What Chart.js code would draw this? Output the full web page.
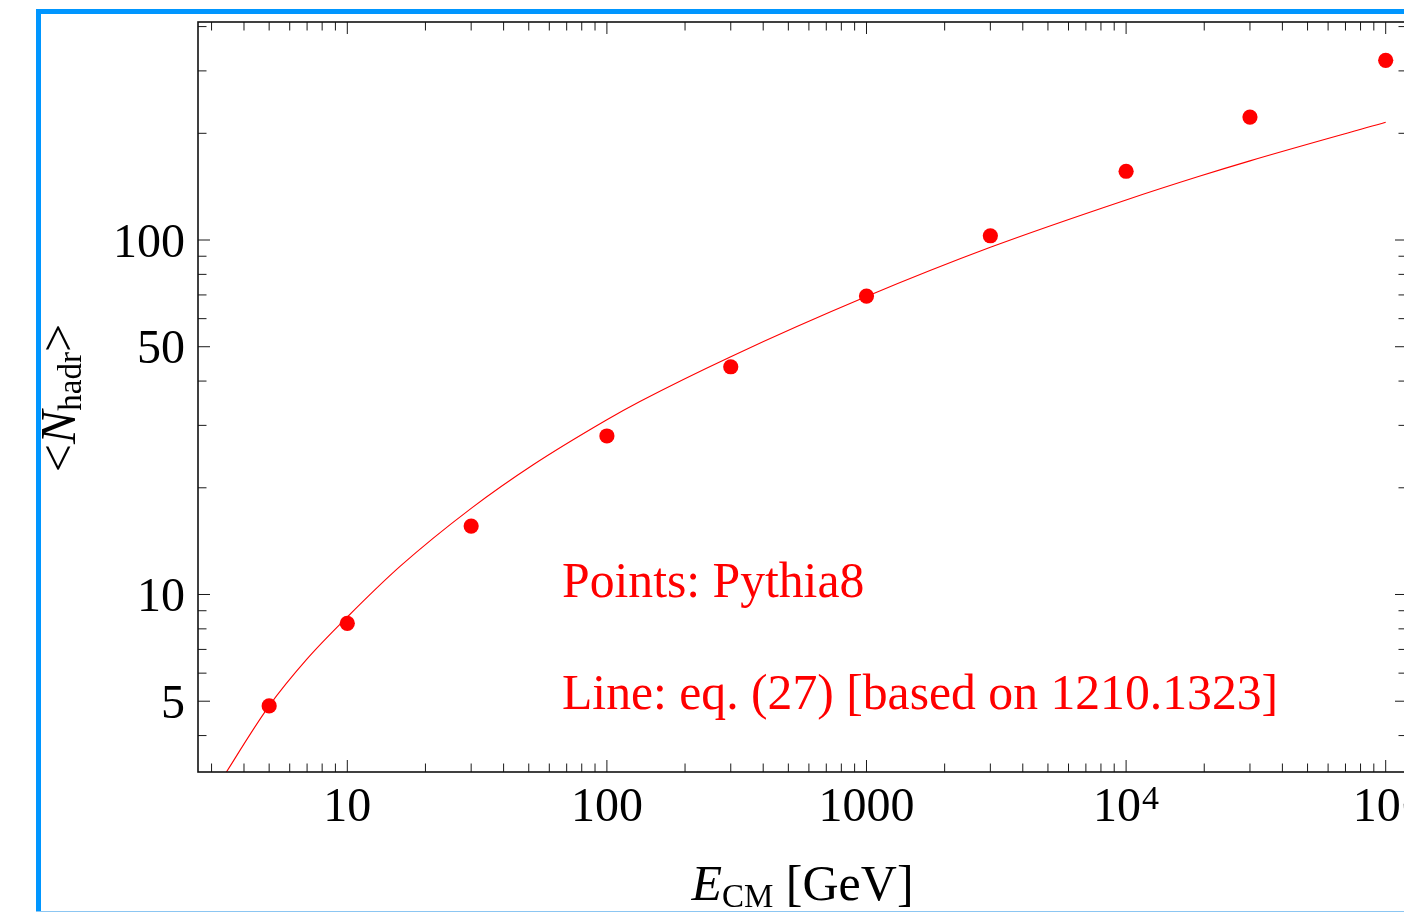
<!DOCTYPE html>
<html>
<head>
<meta charset="utf-8">
<script src="https://cdn.jsdelivr.net/npm/chart.js@4/dist/chart.umd.min.js"></script>
<style>
  html, body { margin: 0; padding: 0; background: #fff; overflow: hidden; width: 1404px; height: 912px; }
  #frame { position: absolute; left: 36px; top: 9px; width: 1420px; height: 1000px;
           border-left: 5px solid #0096ff; border-top: 5px solid #0096ff; }
  #edge  { position: absolute; left: 36px; top: 911px; width: 1420px; height: 1px; background: #8cc6f2; }
  #wrap  { position: absolute; left: 0; top: 0; width: 1420px; height: 912px; }
</style>
</head>
<body>
<div id="frame"></div>
<div id="edge"></div>
<div id="wrap"><canvas id="c" width="1420" height="912"></canvas></div>
<script>
// Pythia8 mean hadron multiplicity vs. centre-of-mass energy
const energies = [5, 10, 30, 100, 300, 1000, 3000, 10000, 30000, 100000];
const pythiaMultiplicity = [4.85, 8.29, 15.6, 28.0, 43.9, 69.5, 102.8, 156.3, 222.3, 321.3];

// eq. (27) curve, sampled
const curveEnergies = [3.18, 5, 7, 10, 16, 30, 52, 100, 134, 300, 1000, 3000, 10000, 19000, 30000, 100000];
const curveMultiplicity = [2.9, 4.85, 6.58, 8.64, 12.02, 17.5, 23.23, 31.12, 35.04, 46.88, 69.28, 95.37, 129.7, 151.0, 167.2, 214.8];

// axis ranges
const xRange = [2.66, 120800];
const yRange = [3.157, 412.1];

// tick marks and labels
const xMajorTicks = [10, 100, 1000, 10000, 100000];
const xTickLabels = ['10', '100', '1000', '10^4', '10^5'];
const xMinorTicks = [3, 4, 5, 6, 7, 8, 9,
                     20, 30, 40, 50, 60, 70, 80, 90,
                     200, 300, 400, 500, 600, 700, 800, 900,
                     2000, 3000, 4000, 5000, 6000, 7000, 8000, 9000,
                     20000, 30000, 40000, 50000, 60000, 70000, 80000, 90000];
const yMajorTicks = [5, 10, 50, 100];
const yTickLabels = ['5', '10', '50', '100'];
const yMinorTicks = [4, 6, 7, 8, 9, 20, 30, 40, 60, 70, 80, 90, 200, 300, 400];

const notes = ['Points: Pythia8', 'Line: eq. (27) [based on 1210.1323]'];

const SERIF = '"Liberation Serif", "Times New Roman", serif';
const RED = '#ff0000';

const toPoints = (xs, ys) => xs.map((v, i) => ({ x: v, y: ys[i] }));

const framePlugin = {
  id: 'framePlugin',
  afterDatasetsDraw(chart) {
    const { ctx, chartArea: a, scales } = chart;
    const xs = scales.x, ys = scales.y;
    ctx.save();

    // ticks on all four sides, pointing inward
    ctx.strokeStyle = '#1a1a1a';
    ctx.lineWidth = 1;
    const MAJOR = 12, MINOR = 8.5;
    const xTick = (v, len) => {
      const p = xs.getPixelForValue(v);
      ctx.beginPath();
      ctx.moveTo(p, a.bottom); ctx.lineTo(p, a.bottom - len);
      ctx.moveTo(p, a.top); ctx.lineTo(p, a.top + len);
      ctx.stroke();
    };
    const yTick = (v, len) => {
      const p = ys.getPixelForValue(v);
      ctx.beginPath();
      ctx.moveTo(a.left, p); ctx.lineTo(a.left + len, p);
      ctx.moveTo(a.right, p); ctx.lineTo(a.right - len, p);
      ctx.stroke();
    };
    xMajorTicks.forEach(v => xTick(v, MAJOR));
    xMinorTicks.forEach(v => xTick(v, MINOR));
    yMajorTicks.forEach(v => yTick(v, MAJOR));
    yMinorTicks.forEach(v => yTick(v, MINOR));

    // frame
    ctx.strokeStyle = '#111';
    ctx.lineWidth = 1.6;
    ctx.strokeRect(a.left, a.top, a.right - a.left, a.bottom - a.top);

    // tick labels
    ctx.fillStyle = '#000';
    ctx.textBaseline = 'alphabetic';
    const TICK_FONT = 48;
    ctx.font = TICK_FONT + 'px ' + SERIF;
    ctx.textAlign = 'right';
    yMajorTicks.forEach((v, i) => {
      const p = ys.getPixelForValue(v);
      ctx.fillText(yTickLabels[i], a.left - 13, p + 16.5);
    });
    ctx.textAlign = 'left';
    xMajorTicks.forEach((v, i) => {
      const p = xs.getPixelForValue(v);
      const [base, sup] = xTickLabels[i].split('^');
      ctx.font = TICK_FONT + 'px ' + SERIF;
      const wb = ctx.measureText(base).width;
      let ws = 0;
      if (sup) { ctx.font = '34px ' + SERIF; ws = ctx.measureText(sup).width + 1; }
      const x0 = p - (wb + ws) / 2;
      ctx.font = TICK_FONT + 'px ' + SERIF;
      ctx.fillText(base, x0, a.bottom + 49);
      if (sup) { ctx.font = '34px ' + SERIF; ctx.fillText(sup, x0 + wb + 1, a.bottom + 37); }
    });

    // x-axis title: E_CM [GeV]
    const parts = [
      { t: 'E', f: 'italic 50px ' + SERIF, dy: 0 },
      { t: 'CM', f: '33px ' + SERIF, dy: 7 },
      { t: ' [GeV]', f: '50px ' + SERIF, dy: 0 }
    ];
    const runWidth = ps => ps.reduce((s, q) => { ctx.font = q.f; return s + ctx.measureText(q.t).width; }, 0);
    const drawRun = (ps, x0, base) => {
      let cx = x0;
      ps.forEach(q => { ctx.font = q.f; ctx.fillText(q.t, cx, base + q.dy); cx += ctx.measureText(q.t).width; });
    };
    const cxMid = (a.left + a.right) / 2;
    drawRun(parts, cxMid - runWidth(parts) / 2, 900);

    // y-axis title: <N_hadr>, rotated
    const yparts = [
      { t: '<', f: '50px ' + SERIF, dy: 0 },
      { t: 'N', f: 'italic 50px ' + SERIF, dy: 0 },
      { t: 'hadr', f: '33px ' + SERIF, dy: 6 },
      { t: '>', f: '50px ' + SERIF, dy: 0 }
    ];
    ctx.save();
    ctx.translate(75, 398);
    ctx.rotate(-Math.PI / 2);
    drawRun(yparts, -runWidth(yparts) / 2, 0);
    ctx.restore();

    // notes
    ctx.fillStyle = RED;
    ctx.font = '49.7px ' + SERIF;
    ctx.textAlign = 'left';
    ctx.fillText(notes[0], 562, 597);
    ctx.fillText(notes[1], 562, 709);

    ctx.restore();
  }
};

new Chart(document.getElementById('c'), {
  type: 'scatter',
  data: {
    datasets: [
      {
        label: 'Pythia8',
        data: toPoints(energies, pythiaMultiplicity),
        backgroundColor: RED,
        borderWidth: 0,
        pointRadius: 7.6,
        pointHoverRadius: 7.6
      },
      {
        type: 'line',
        label: 'eq. (27)',
        data: toPoints(curveEnergies, curveMultiplicity),
        borderColor: RED,
        borderWidth: 1.1,
        pointRadius: 0,
        fill: false,
        cubicInterpolationMode: 'monotone'
      }
    ]
  },
  options: {
    responsive: false,
    animation: false,
    devicePixelRatio: 1,
    layout: { padding: { left: 198, top: 22, right: 13, bottom: 140 } },
    plugins: { legend: { display: false }, tooltip: { enabled: false } },
    scales: {
      x: { type: 'logarithmic', min: xRange[0], max: xRange[1], display: false },
      y: { type: 'logarithmic', min: yRange[0], max: yRange[1], display: false }
    }
  },
  plugins: [framePlugin]
});
</script>
</body>
</html>
